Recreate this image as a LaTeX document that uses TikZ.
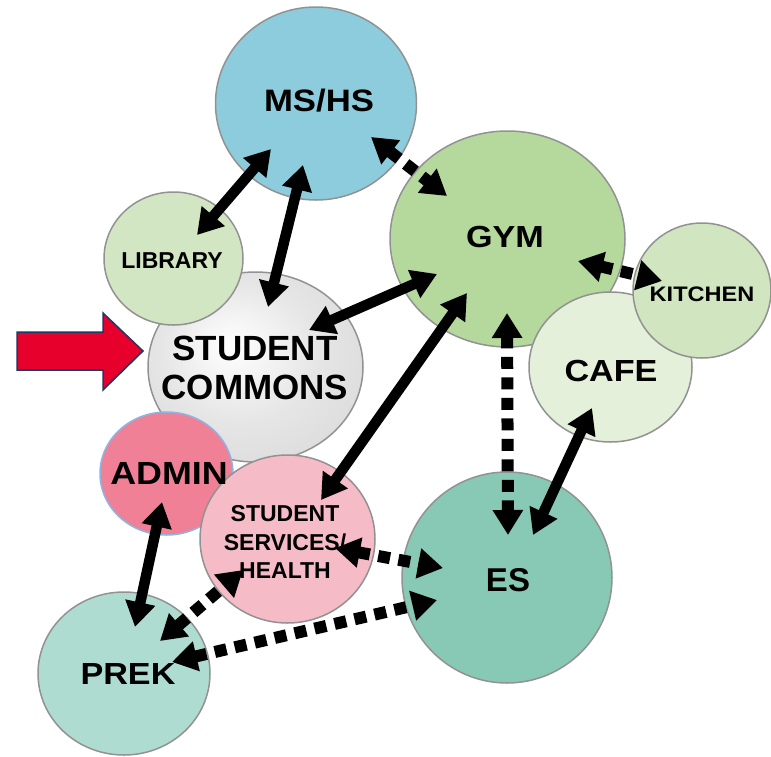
\documentclass[tikz,border=0pt]{standalone}
\usepackage{fontspec}
\setmainfont{Liberation Sans}
\newfontfamily\widefont{Liberation Sans}[FakeStretch=1.12]
\usetikzlibrary{shapes.geometric,arrows.meta,calc}
\definecolor{zonegray}{HTML}{929292}
\definecolor{msfill}{HTML}{8CCCDC}
\definecolor{gymfill}{HTML}{B5D89D}
\definecolor{libfill}{HTML}{D3E6C4}
\definecolor{kitfill}{HTML}{D0E5C0}
\definecolor{cafefill}{HTML}{E4F0DA}
\definecolor{admfill}{HTML}{EF8096}
\definecolor{admline}{HTML}{8EB4E3}
\definecolor{sshfill}{HTML}{F5BCC7}
\definecolor{esfill}{HTML}{88C9B6}
\definecolor{prekfill}{HTML}{AEDCD1}
\definecolor{scout}{HTML}{CDCDCD}
\definecolor{scmid}{HTML}{E6E6E6}
\definecolor{entryred}{HTML}{E8002C}
\definecolor{entryline}{HTML}{1F3864}
\pgfdeclareradialshading{scshade}{\pgfpoint{-6bp}{6bp}}{color(0bp)=(white); color(18bp)=(scmid); color(50bp)=(scout)}
\tikzset{
  zone/.style={ellipse, draw=zonegray, line width=1.5pt, inner sep=0pt},
  lbl/.style={inner sep=0pt, align=center},
  solidlink/.style={line width=10.5pt, >={Triangle[length=25pt,width=29pt]}, <->},
  dotlink/.style={line width=12pt, dash pattern=on 12pt off 8.5pt, >={Triangle[length=25pt,width=29pt]}, <->}
}
\begin{document}
\begin{tikzpicture}[x=1pt,y=-1pt]
\useasboundingbox (0,0) rectangle (771,756);
% zones
\node[zone, fill=gymfill, minimum width=235pt, minimum height=216pt] (gym) at (507.5,239) {};
\node[zone, fill=cafefill, minimum width=163pt, minimum height=150pt] (cafe) at (610.5,367) {};
\node[zone, fill=kitfill, minimum width=138pt, minimum height=135pt] (kit) at (702,290.5) {};
\node[zone, fill=msfill, minimum width=201pt, minimum height=193pt] (ms) at (316,103.5) {};
\node[zone, shading=scshade, minimum width=215pt, minimum height=190pt] (sc) at (255.5,367) {};
\node[zone, fill=libfill, minimum width=139pt, minimum height=133pt] (lib) at (173.5,258.5) {};
\node[zone, fill=admfill, draw=admline, minimum width=133pt, minimum height=123pt] (adm) at (166.5,473.5) {};
\node[zone, fill=sshfill, minimum width=175pt, minimum height=168pt] (ssh) at (287.5,539) {};
\node[zone, fill=esfill, minimum width=210pt, minimum height=211pt] (es) at (507,577.5) {};
\node[zone, fill=prekfill, minimum width=172pt, minimum height=163pt] (prek) at (124,673.5) {};
% labels
\node[lbl, font={\widefont\bfseries\fontsize{31}{36}\selectfont}] (msT) at (319,101) {MS/HS};
\node[lbl, font={\widefont\bfseries\fontsize{30.5}{36}\selectfont}] (gymT) at (505,237) {GYM};
\node[lbl, font={\bfseries\fontsize{23}{27}\selectfont}] (libT) at (172,261) {LIBRARY};
\node[lbl, font={\widefont\bfseries\fontsize{21}{25}\selectfont}] (kitT) at (702,294) {KITCHEN};
\node[lbl, font={\bfseries\fontsize{35}{39}\selectfont}] (scT) at (255,368) {STUDENT\\COMMONS};
\node[lbl, font={\widefont\bfseries\fontsize{30.5}{36}\selectfont}] (cafeT) at (611,371) {CAFE};
\node[lbl, font={\widefont\bfseries\fontsize{32}{36}\selectfont}] (admT) at (169,473) {ADMIN};
\node[lbl, font={\bfseries\fontsize{23}{28.5}\selectfont}] (sshT) at (285,542) {STUDENT\\SERVICES/\\HEALTH};
\node[lbl, font={\bfseries\fontsize{33}{38}\selectfont}] (esT) at (508,580) {ES};
\node[lbl, font={\widefont\bfseries\fontsize{30.5}{36}\selectfont}] (prekT) at (128,674) {PREK};
% connectors
\draw[solidlink] ($(ms)+(-45,45.5)$) -- ($(lib)+(23.5,-23.5)$);
\draw[solidlink] ($(ms)+(-13,61.5)$) -- ($(sc)+(12.5,-60)$);
\draw[dotlink] ($(ms)+(55,33.5)$) -- ($(gym)+(-60.5,-43)$);
\draw[solidlink] ($(gym)+(-70.5,35)$) -- ($(sc)+(53.5,-37)$);
\draw[solidlink] ($(gym)+(-40.5,54)$) -- ($(ssh)+(33.5,-39)$);
\draw[dotlink] ($(gym)+(70.5,22)$) -- ($(kit)+(-40,-9.5)$);
\draw[dotlink] ($(gym)+(-0.5,74)$) -- ($(es)+(1,-42.5)$);
\draw[solidlink] ($(cafe)+(-18.5,41)$) -- ($(es)+(26,-42.5)$);
\draw[dotlink] ($(ssh)+(47.5,9)$) -- ($(es)+(-64,-9.5)$);
\draw[dotlink] ($(prek)+(48,-11.5)$) -- ($(es)+(-70,22.5)$);
\draw[dotlink] ($(prek)+(36,-32.5)$) -- ($(ssh)+(-44.5,31)$);
\draw[solidlink] ($(adm)+(-4.5,28.5)$) -- ($(prek)+(11,-46.5)$);
% entry arrow
\draw[fill=entryred, draw=entryline, line width=1.5pt, line join=miter]
  (17,332) -- (103,332) -- (103,313) -- (143,351) -- (103,390) -- (103,370) -- (17,370) -- cycle;
\end{tikzpicture}
\end{document}
